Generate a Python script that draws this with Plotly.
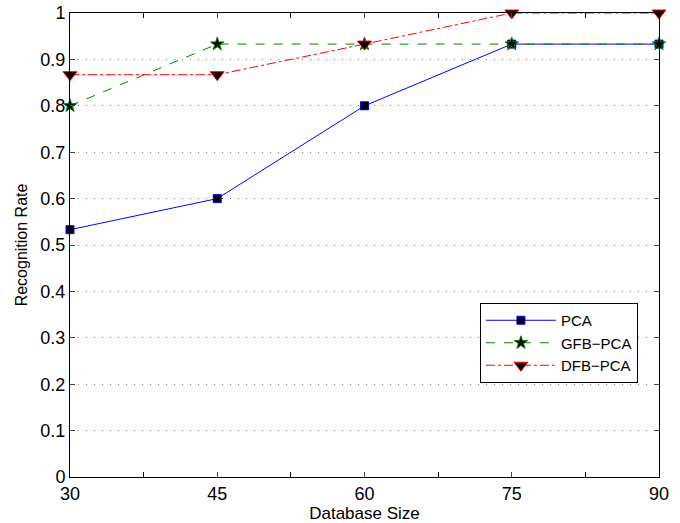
import plotly.graph_objects as go

sizes = [30, 45, 60, 75, 90]
pca = [0.533, 0.600, 0.800, 0.933, 0.933]
gfb_pca = [0.800, 0.933, 0.933, 0.933, 0.933]
dfb_pca = [0.867, 0.867, 0.933, 1.000, 1.000]

fig = go.Figure()
fig.add_trace(go.Scatter(x=sizes, y=pca, name="PCA", mode="lines+markers", cliponaxis=False,
                         line=dict(color="#0000ff", width=1),
                         marker=dict(symbol="square", size=8, color="black",
                                     line=dict(color="#0000ff", width=1))))
fig.add_trace(go.Scatter(x=sizes, y=gfb_pca, name="GFB\u2212PCA", mode="lines+markers", cliponaxis=False,
                         line=dict(color="#008000", width=1, dash="dash"),
                         marker=dict(symbol="star", size=10, color="black",
                                     line=dict(color="#008000", width=1))))
fig.add_trace(go.Scatter(x=sizes, y=dfb_pca, name="DFB\u2212PCA", mode="lines+markers", cliponaxis=False,
                         line=dict(color="#ff0000", width=1, dash="dashdot"),
                         marker=dict(symbol="triangle-down", size=12, color="black",
                                     line=dict(color="#ff0000", width=1))))

font = "Liberation Sans, Arial, sans-serif"
fig.update_layout(
    width=680, height=523,
    margin=dict(l=70, r=21, t=13, b=46),
    paper_bgcolor="white", plot_bgcolor="white",
    font=dict(family=font, size=17, color="black"),
    showlegend=True,
    legend=dict(x=0.696, y=0.375, xanchor="left", yanchor="top",
                bgcolor="white", bordercolor="black", borderwidth=1,
                font=dict(size=15), tracegroupgap=0, itemwidth=70),
    xaxis=dict(range=[30, 90], tickvals=sizes, ticks="inside", ticklen=5,
               showline=True, linecolor="black", linewidth=1, mirror="ticks",
               showgrid=False, zeroline=False, automargin=False,
               minor=dict(dtick=7.5, tick0=30, ticks="inside", ticklen=5, tickcolor="black", showgrid=False),
               title=dict(text="Database Size", font=dict(size=17), standoff=2),
               tickfont=dict(size=18)),
    yaxis=dict(range=[0, 1], dtick=0.1, tick0=0, ticks="inside", ticklen=5,
               showline=True, linecolor="black", linewidth=1, mirror="ticks",
               showgrid=True, gridcolor="#777777", griddash="1px,7px", gridwidth=1,
               zeroline=False, tickformat="~g", automargin=False,
               title=dict(text="Recognition Rate", font=dict(size=16), standoff=8),
               tickfont=dict(size=18)),
)
fig.write_html("out.html", config={"displayModeBar": False},
               post_script="document.body.style.margin='0';")
